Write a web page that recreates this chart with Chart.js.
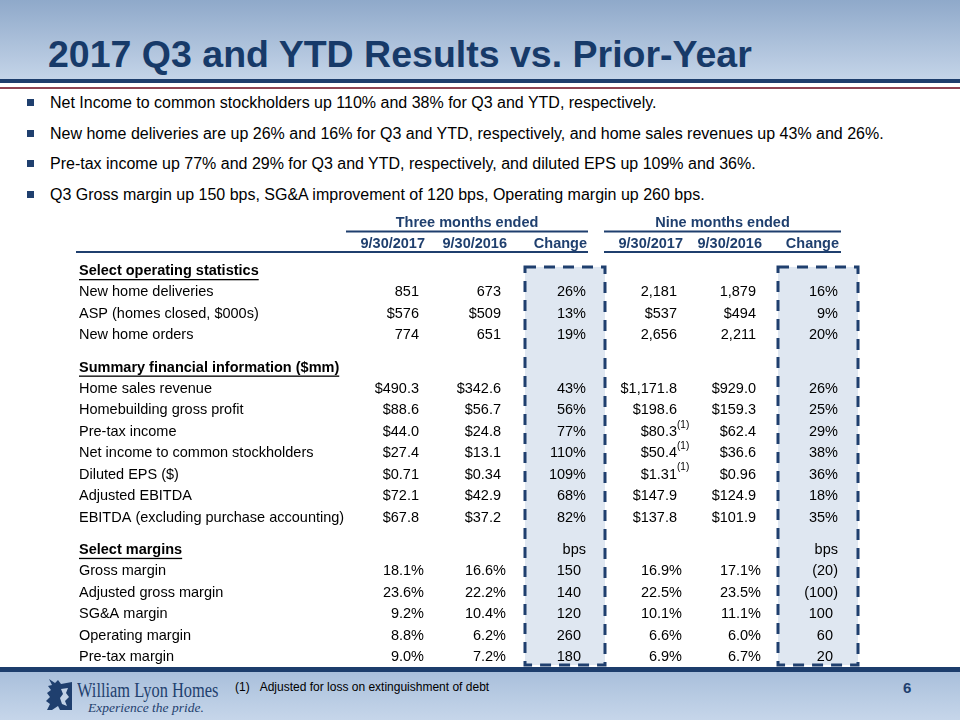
<!DOCTYPE html>
<html>
<head>
<meta charset="utf-8">
<script src="https://cdn.jsdelivr.net/npm/chart.js@4.4.0/dist/chart.umd.min.js"></script>
<style>
  body { margin: 0; }
  #slide {
    position: relative; width: 960px; height: 720px; overflow: hidden;
    background: #fff; font-family: "Liberation Sans", Arial, sans-serif; color: #000;
  }
  .abs { position: absolute; }
  #titleBand { left: 0; top: 0; width: 960px; height: 79px; background: linear-gradient(#8fa9ca, #c4d4e8); }
  #titleRule { left: 0; top: 79px; width: 960px; height: 4px; background: #1d3d6c; }
  #redRule { left: 0; top: 87px; width: 960px; height: 2px; background: #8e4452; }
  #title {
    left: 48px; top: 31px; margin: 0; font-size: 37.5px; line-height: 46px;
    font-weight: bold; color: #173a69; white-space: nowrap;
  }
  .bullet { left: 50px; font-size: 16px; line-height: 20px; white-space: nowrap; }
  .bullet::before {
    content: ""; position: absolute; left: -23px; top: 6px; width: 7px; height: 7px; background: #1f3f6e;
  }
  #tableBox { left: 0; top: 200px; width: 960px; height: 480px; }
  #footRule { left: 0; top: 667px; width: 960px; height: 5px; background: #1d3d6c; }
  #footBand { left: 0; top: 672px; width: 960px; height: 48px; background: linear-gradient(#a9bfdb, #c6d6ea); }
  #footnote { left: 235px; top: 680px; font-size: 12px; white-space: nowrap; }
  #pageNo { left: 903px; top: 679px; font-size: 15px; font-weight: bold; color: #1f3f6e; }
  #brand {
    left: 77px; top: 679px; font-family: "Liberation Serif", "Times New Roman", serif;
    font-size: 20px; color: #1f3f6e; white-space: nowrap; transform-origin: left top; transform: scaleX(0.82);
  }
  #tagline {
    left: 88px; top: 700px; font-family: "Liberation Serif", "Times New Roman", serif;
    font-style: italic; font-size: 13.5px; color: #1f3f6e; white-space: nowrap;
  }
</style>
</head>
<body>
<div id="slide">
  <div id="titleBand" class="abs"></div>
  <div id="titleRule" class="abs"></div>
  <div id="redRule" class="abs"></div>
  <h1 id="title" class="abs">2017 Q3 and YTD Results vs. Prior-Year</h1>

  <div class="abs bullet" style="top:93px">Net Income to common stockholders up 110% and 38% for Q3 and YTD, respectively.</div>
  <div class="abs bullet" style="top:124px">New home deliveries are up 26% and 16% for Q3 and YTD, respectively, and home sales revenues up 43% and 26%.</div>
  <div class="abs bullet" style="top:154px">Pre-tax income up 77% and 29% for Q3 and YTD, respectively, and diluted EPS up 109% and 36%.</div>
  <div class="abs bullet" style="top:185px">Q3 Gross margin up 150 bps, SG&amp;A improvement of 120 bps, Operating margin up 260 bps.</div>

  <div id="tableBox" class="abs"><canvas id="table" width="960" height="480"></canvas></div>

  <div id="footRule" class="abs"></div>
  <div id="footBand" class="abs"></div>
  <svg class="abs" style="left:46px;top:679px" width="26" height="31" viewBox="0 0 26 31">
    <path fill="#1f3f6e" d="M3 0 L9 4 L12 1 L15 5 L26 3 L26 31 L14 31 L12 27 L6 31 L1 31 L4 25 L0 22 L4 18 L1 14 L5 11 L2 7 L6 6 Z"/>
    <path fill="#c2d2e6" d="M15 10 L22 9 L20 14 L23 18 L19 22 L21 27 L16 25 L14 19 L17 15 Z"/>
  </svg>
  <div id="brand" class="abs">William Lyon Homes</div>
  <div id="tagline" class="abs">Experience the pride.</div>
  <div id="footnote" class="abs">(1)&nbsp;&nbsp;&nbsp;Adjusted for loss on extinguishment of debt</div>
  <div id="pageNo" class="abs">6</div>
</div>

<script>
// ---- table data ----
const sectionTitles = ["Select operating statistics", "Summary financial information ($mm)", "Select margins"];
const sectionSizes = [3, 7, 5];
const changeUnits = ["%", "%", "bps"];

const rowLabels = [
  "New home deliveries", "ASP (homes closed, $000s)", "New home orders",
  "Home sales revenue", "Homebuilding gross profit", "Pre-tax income",
  "Net income to common stockholders", "Diluted EPS ($)", "Adjusted EBITDA",
  "EBITDA (excluding purchase accounting)",
  "Gross margin", "Adjusted gross margin", "SG&A margin", "Operating margin", "Pre-tax margin"
];
const rowFormats = ["int", "usd0", "int", "usd1", "usd1", "usd1", "usd1", "usd2", "usd1", "usd1",
  "pct1", "pct1", "pct1", "pct1", "pct1"];

const q3_2017 = [851, 576, 774, 490.3, 88.6, 44.0, 27.4, 0.71, 72.1, 67.8, 18.1, 23.6, 9.2, 8.8, 9.0];
const q3_2016 = [673, 509, 651, 342.6, 56.7, 24.8, 13.1, 0.34, 42.9, 37.2, 16.6, 22.2, 10.4, 6.2, 7.2];
const q3Change = [26, 13, 19, 43, 56, 77, 110, 109, 68, 82, 150, 140, 120, 260, 180];
const ytd2017 = [2181, 537, 2656, 1171.8, 198.6, 80.3, 50.4, 1.31, 147.9, 137.8, 16.9, 22.5, 10.1, 6.6, 6.9];
const ytd2016 = [1879, 494, 2211, 929.0, 159.3, 62.4, 36.6, 0.96, 124.9, 101.9, 17.1, 23.5, 11.1, 6.0, 6.7];
const ytdChange = [16, 9, 20, 26, 25, 29, 38, 36, 18, 35, -20, -100, 100, 60, 20];
const ytd2017Footnotes = [5, 6, 7]; // rows marked (1)

const groupTitles = ["Three months ended", "Nine months ended"];
const columnTitles = ["9/30/2017", "9/30/2016", "Change", "9/30/2017", "9/30/2016", "Change"];

// ---- layout / style ----
const NAVY = "#1f3f6e";
const FONT = '"Liberation Sans", Arial, sans-serif';
const labelX = 79;
const colRight = [424, 506, 586, 682, 761, 838];
const groupSpan = [[346, 588], [604, 841]];
const boxSpan = [[525, 605], [778, 858]];

// row positions in row units: section header, its rows, then a 1.5 row gap
const headerPos = [];
const rowPos = [];
const rowSection = [];
let pos = 0;
sectionSizes.forEach((n, s) => {
  headerPos.push(pos);
  for (let i = 1; i <= n; i++) { rowPos.push(pos + i); rowSection.push(s); }
  pos += n + 1.5;
});

function fmt(v, kind) {
  switch (kind) {
    case "int": return v.toLocaleString("en-US");
    case "usd0": return "$" + v.toFixed(0);
    case "usd1": return "$" + v.toLocaleString("en-US", { minimumFractionDigits: 1, maximumFractionDigits: 1 });
    case "usd2": return "$" + v.toFixed(2);
    case "pct1": return v.toFixed(1) + "%";
    case "%": return v + "%";
    case "bps": return v < 0 ? "(" + (-v) + ")" : String(v);
  }
  return String(v);
}

const columns = [
  rowLabels,
  q3_2017.map((v, i) => fmt(v, rowFormats[i])),
  q3_2016.map((v, i) => fmt(v, rowFormats[i])),
  q3Change.map((v, i) => fmt(v, changeUnits[rowSection[i]])),
  ytd2017.map((v, i) => fmt(v, rowFormats[i])),
  ytd2016.map((v, i) => fmt(v, rowFormats[i])),
  ytdChange.map((v, i) => fmt(v, changeUnits[rowSection[i]]))
];

const datasets = columns.map((texts, c) => ({
  label: c === 0 ? "labels" : columnTitles[c - 1],
  texts: texts,
  data: rowPos.map(y => ({ x: c === 0 ? labelX : colRight[c - 1], y: y })),
  pointRadius: 0,
  showLine: false
}));

const tablePlugin = {
  id: "tableText",
  beforeDatasetsDraw(chart) {
    const { ctx, scales: { x, y } } = chart;
    ctx.save();
    // highlighted change columns
    boxSpan.forEach(([l, r]) => {
      const top = y.getPixelForValue(-0.19), bottom = y.getPixelForValue(18.37);
      const left = x.getPixelForValue(l), right = x.getPixelForValue(r);
      ctx.fillStyle = "#dfe7f1";
      ctx.fillRect(left, top, right - left, bottom - top);
      ctx.strokeStyle = NAVY;
      ctx.lineWidth = 3;
      ctx.setLineDash([11, 8]);
      ctx.strokeRect(left, top, right - left, bottom - top);
    });
    ctx.setLineDash([]);
    // header rules
    ctx.strokeStyle = NAVY;
    ctx.lineWidth = 2;
    groupSpan.forEach(([l, r], g) => {
      const yTop = y.getPixelForValue(-1.84), yBot = y.getPixelForValue(-0.89);
      ctx.beginPath();
      ctx.moveTo(x.getPixelForValue(l), yTop);
      ctx.lineTo(x.getPixelForValue(r), yTop);
      ctx.moveTo(x.getPixelForValue(g === 0 ? labelX - 3 : l), yBot);
      ctx.lineTo(x.getPixelForValue(r), yBot);
      ctx.stroke();
    });
    ctx.restore();
  },
  afterDatasetsDraw(chart) {
    const { ctx, scales: { x, y } } = chart;
    ctx.save();
    ctx.textBaseline = "middle";
    // group and column headers
    ctx.fillStyle = NAVY;
    ctx.font = "bold 14.5px " + FONT;
    ctx.textAlign = "center";
    groupTitles.forEach((t, g) => {
      ctx.fillText(t, x.getPixelForValue((groupSpan[g][0] + groupSpan[g][1]) / 2), y.getPixelForValue(-2.24));
    });
    ctx.textAlign = "right";
    columnTitles.forEach((t, c) => {
      ctx.fillText(t, x.getPixelForValue(colRight[c] + 1), y.getPixelForValue(-1.26));
    });
    // section headers (bold, underlined) and bps markers
    ctx.fillStyle = "#000";
    sectionTitles.forEach((t, s) => {
      const py = y.getPixelForValue(headerPos[s]);
      const px = x.getPixelForValue(labelX);
      ctx.font = "bold 14.5px " + FONT;
      ctx.textAlign = "left";
      ctx.fillText(t, px, py);
      const w = ctx.measureText(t).width;
      ctx.fillRect(px, py + 8, w, 1.3);
      if (changeUnits[s] === "bps") {
        ctx.font = "14.5px " + FONT;
        ctx.textAlign = "right";
        [2, 5].forEach(c => ctx.fillText("bps", x.getPixelForValue(colRight[c]), py));
      }
    });
    // cells
    ctx.font = "14.5px " + FONT;
    chart.data.datasets.forEach((ds, c) => {
      const meta = chart.getDatasetMeta(c);
      meta.data.forEach((pt, i) => {
        const t = ds.texts[i];
        if (c === 0) {
          ctx.textAlign = "left";
          ctx.fillText(t, pt.x, pt.y);
          return;
        }
        ctx.textAlign = "right";
        const endX = /\d$/.test(t) ? pt.x - 5 : pt.x;
        ctx.fillText(t, endX, pt.y);
        if (c === 4 && ytd2017Footnotes.includes(i)) {
          ctx.font = "10px " + FONT;
          ctx.textAlign = "left";
          ctx.fillText("(1)", endX, pt.y - 7);
          ctx.font = "14.5px " + FONT;
        }
      });
    });
    ctx.restore();
  }
};

new Chart(document.getElementById("table"), {
  type: "scatter",
  data: { datasets: datasets },
  options: {
    responsive: false,
    animation: false,
    devicePixelRatio: 1,
    layout: { padding: 0 },
    plugins: { legend: { display: false }, tooltip: { enabled: false } },
    scales: {
      x: { type: "linear", min: 0, max: 960, display: false },
      y: { type: "linear", reverse: true, min: -3.31, max: 19.07, display: false }
    }
  },
  plugins: [tablePlugin]
});
</script>
</body>
</html>
